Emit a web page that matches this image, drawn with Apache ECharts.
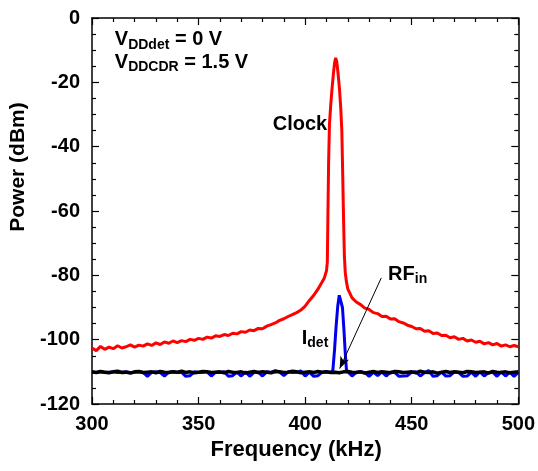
<!DOCTYPE html>
<html>
<head>
<meta charset="utf-8">
<script src="https://cdn.jsdelivr.net/npm/echarts@6/dist/echarts.min.js"></script>
<style>
  html, body { margin: 0; padding: 0; background: #fff; }
  #chart { width: 538px; height: 471px; }
</style>
</head>
<body>
<div id="chart"></div>
<script>
// frequency grid (kHz) used by the detector traces
const gridFreq = [
  300, 302, 304, 306, 308, 310, 312, 314, 316, 318, 320, 322, 324, 326, 328, 330, 332, 334, 336, 338,
  340, 342, 344, 346, 348, 350, 352, 354, 356, 358, 360, 362, 364, 366, 368, 370, 372, 374, 376, 378,
  380, 382, 384, 386, 388, 390, 392, 394, 396, 398, 400, 402, 404, 406, 408, 410, 412, 414, 416, 418,
  420, 422, 424, 426, 428, 430, 432, 434, 436, 438, 440, 442, 444, 446, 448, 450, 452, 454, 456, 458,
  460, 462, 464, 466, 468, 470, 472, 474, 476, 478, 480, 482, 484, 486, 488, 490, 492, 494, 496, 498, 500
];

// black trace (noise floor)
const blackPower = [
  -110.0, -110.2, -109.9, -110.1, -110.3, -110.0, -109.8, -110.2, -110.1, -110.4, -110.0, -109.9, -110.2, -110.1, -110.0, -110.3, -109.9, -110.1, -110.2, -110.0,
  -110.1, -109.8, -110.2, -110.0, -110.3, -110.1, -109.9, -110.0, -110.2, -110.1, -110.0, -110.3, -109.9, -110.1, -110.2, -110.0, -110.4, -110.1, -109.9, -110.2,
  -110.0, -110.1, -110.3, -109.9, -110.0, -110.2, -110.1, -109.8, -110.0, -110.3, -110.1, -110.0, -110.2, -109.9, -110.1, -110.0, -110.2, -110.1, -110.3, -110.0,
  -109.9, -110.1, -110.2, -110.0, -110.4, -110.1, -109.9, -110.2, -110.0, -110.1, -110.3, -109.9, -110.0, -110.2, -110.1, -110.0, -110.3, -109.8, -110.1, -110.2,
  -110.0, -110.4, -110.1, -109.9, -110.2, -110.0, -110.1, -110.3, -109.9, -110.0, -110.2, -110.1, -110.0, -110.4, -109.9, -110.1, -110.2, -110.0, -110.3, -110.1, -110.0
];

// blue trace (I_det) on the grid, peak handled separately
const blueBasePower = [
  -110.1, -110.2, -110.0, -110.2, -110.1, -110.0, -110.2, -110.1, -110.0, -110.2, -110.1, -110.0, -110.2, -111.4, -110.1, -110.0, -110.2, -111.3, -110.1, -110.0,
  -110.2, -110.1, -111.4, -111.2, -110.0, -110.2, -110.1, -110.0, -111.3, -110.1, -110.2, -110.0, -111.4, -111.2, -110.1, -111.3, -110.0, -111.4, -110.2, -110.1,
  -111.3, -110.0, -110.2, -109.6, -110.1, -111.2, -110.0, -110.2, -110.1, -109.7, -111.3, -110.1, -111.4, -111.2, -110.1, -110.0, -110.2, -110.0, -110.0, -110.0,
  -110.2, -111.3, -110.1, -110.0, -110.2, -111.4, -110.1, -111.2, -110.0, -111.3, -110.1, -110.2, -111.4, -111.3, -111.2, -110.1, -110.0, -111.3, -110.2, -109.6,
  -111.4, -111.2, -110.1, -111.3, -111.2, -110.0, -110.2, -111.4, -111.3, -110.1, -111.4, -110.0, -111.3, -110.2, -110.1, -111.4, -110.0, -111.3, -110.1, -111.4, -110.2
];
const bluePeakFreq = [413, 413.8, 414.5, 415.3, 416, 416.4, 416.9, 417.5, 418.2, 418.8, 419.4];
const bluePeakPower = [-109.5, -103, -96, -89.5, -86.2, -85.6, -86.5, -90, -97, -104, -109.6];

// red trace (clock)
const redFreq = [
  300, 302, 304, 306, 308, 310, 312, 314, 316, 318, 320, 322, 324, 326, 328, 330, 332, 334, 336, 338,
  340, 342, 344, 346, 348, 350, 352, 354, 356, 358, 360, 362, 364, 366, 368, 370, 372, 374, 376, 378,
  380, 382, 384, 386, 388, 390, 392, 394, 396, 398, 400, 402, 404, 406, 408,
  409, 410, 410.4, 410.7, 411, 411.4, 412, 412.6, 413.3, 413.8, 414.3, 414.8, 415.4, 416.1, 416.7, 417.2,
  417.6, 418, 418.4, 418.8, 419.3, 420,
  422, 424, 426, 428, 430, 432, 434, 436, 438, 440, 442, 444, 446, 448, 450, 452, 454, 456, 458,
  460, 462, 464, 466, 468, 470, 472, 474, 476, 478, 480, 482, 484, 486, 488, 490, 492, 494, 496, 498, 500
];
const redPower = [
  -102.6, -103.4, -102.1, -103.0, -102.3, -102.8, -101.9, -102.6, -102.2, -101.6, -102.3, -101.7, -102.0, -101.3, -101.8, -101.0, -101.5, -100.7, -101.1, -100.4,
  -100.9, -100.3, -100.6, -99.9, -100.2, -99.6, -99.9, -99.2, -99.5, -98.8, -99.0, -98.4, -98.7, -98.0, -98.2, -97.5, -97.7, -97.0, -97.2, -96.5,
  -96.6, -95.8, -95.3, -94.8, -94.0, -93.5, -92.8, -92.2, -91.6, -90.8, -89.6, -87.8, -86.2, -84.3, -82.0,
  -80.8, -78.6, -76, -60, -45, -33, -27, -22, -17, -14, -12.4, -13.5, -17, -22, -28, -35,
  -48, -62, -74, -79, -81.8, -84.2,
  -87.0, -88.3, -89.1, -90.2, -90.6, -91.6, -91.9, -92.8, -92.7, -93.6, -93.5, -94.4, -94.8, -95.5, -95.9, -96.6, -96.5, -97.4, -97.2,
  -98.1, -97.9, -98.7, -98.6, -99.4, -99.1, -99.9, -99.6, -100.4, -100.1, -100.8, -100.5, -101.3, -100.9, -101.6, -101.2, -102.0, -101.6, -102.2, -101.8, -102.2
];

// annotations in data coordinates (kHz, dBm)
const labels = [
  { text: '{m|V}{s|DDdet}{m| = 0 V}', at: [310.7, -6.8] },
  { text: '{m|V}{s|DDCDR}{m| = 1.5 V}', at: [310.7, -13.8] },
  { text: '{m|Clock}', at: [384.8, -33.1] },
  { text: '{m|I}{s|det}', at: [398.4, -99.5] },
  { text: '{m|RF}{s|in}', at: [438.9, -79.7] }
];
const arrowFrom = [435.7, -80.8];
const arrowTo = [416.2, -109.0];

const FONT = '"Liberation Sans", Arial, Helvetica, sans-serif';

const blueData = [];
gridFreq.forEach((f, i) => {
  if (f < 412.5 || f > 419.5) blueData.push([f, blueBasePower[i]]);
});
bluePeakFreq.forEach((f, i) => blueData.push([f, bluePeakPower[i]]));
blueData.sort((a, b) => a[0] - b[0]);

const redData = redFreq.map((f, i) => [f, redPower[i]]);
const blackData = gridFreq.map((f, i) => [f, blackPower[i]]);

const chart = echarts.init(document.getElementById('chart'));

const axisLine = { show: true, onZero: false, lineStyle: { color: '#000', width: 1.5 } };
const tickStyle = { color: '#000', width: 1.2 };

function xAxisDef(pos, showLabel) {
  return {
    type: 'value',
    position: pos,
    min: 300,
    max: 500,
    interval: 50,
    axisLine: axisLine,
    axisTick: { show: true, inside: true, length: 7, lineStyle: tickStyle },
    minorTick: { show: true, splitNumber: 5, length: 4, lineStyle: tickStyle },
    splitLine: { show: false },
    axisLabel: {
      show: showLabel, margin: 10, color: '#000',
      fontSize: 20, fontWeight: 'bold', fontFamily: FONT
    }
  };
}
function yAxisDef(pos, showLabel) {
  return {
    type: 'value',
    position: pos,
    min: -120,
    max: 0,
    interval: 20,
    axisLine: axisLine,
    axisTick: { show: true, inside: true, length: 7, lineStyle: tickStyle },
    minorTick: { show: true, splitNumber: 4, length: 4, lineStyle: tickStyle },
    splitLine: { show: false },
    axisLabel: {
      show: showLabel, margin: 12, color: '#000',
      fontSize: 20, fontWeight: 'bold', fontFamily: FONT
    }
  };
}

const xBottom = xAxisDef('bottom', true);
xBottom.name = 'Frequency (kHz)';
xBottom.nameLocation = 'middle';
xBottom.nameGap = 34;
xBottom.nameTextStyle = { color: '#000', fontSize: 22, fontWeight: 'bold', fontFamily: FONT, padding: [0, 18, 0, 0] };

const yLeft = yAxisDef('left', true);
yLeft.name = 'Power (dBm)';
yLeft.nameLocation = 'middle';
yLeft.nameGap = 59;
yLeft.nameTextStyle = { color: '#000', fontSize: 21, fontWeight: 'bold', fontFamily: FONT, padding: [0, 0, 0, 88] };

chart.setOption({
  animation: false,
  backgroundColor: '#fff',
  grid: { left: 92, right: 17, top: 18, bottom: 67 },
  xAxis: [xBottom, xAxisDef('top', false)],
  yAxis: [yLeft, yAxisDef('right', false)],
  series: [
    {
      name: 'Clock', type: 'line', data: redData, showSymbol: false,
      lineStyle: { color: '#ff0000', width: 3 }, z: 2
    },
    {
      name: 'Idet', type: 'line', data: blueData, showSymbol: false,
      lineStyle: { color: '#0000ee', width: 3 }, z: 3
    },
    {
      name: 'Floor', type: 'line', data: blackData, showSymbol: false,
      lineStyle: { color: '#000', width: 3.5 }, z: 4,
      markLine: {
        silent: true,
        symbol: ['none', 'arrow'],
        symbolSize: [7, 12],
        label: { show: false },
        lineStyle: { color: '#000', width: 1, type: 'solid' },
        data: [[{ coord: arrowFrom }, { coord: arrowTo }]]
      }
    }
  ]
});

const rich = {
  m: { fill: '#000', fontSize: 20, fontWeight: 'bold', fontFamily: FONT, lineHeight: 24 },
  s: { fill: '#000', fontSize: 14, fontWeight: 'bold', fontFamily: FONT, lineHeight: 14, verticalAlign: 'bottom' }
};

chart.setOption({
  graphic: labels.map(l => {
    const p = chart.convertToPixel({ gridIndex: 0 }, l.at);
    return {
      type: 'text', x: p[0], y: p[1], z: 10,
      style: { text: l.text, rich: rich, align: 'left', verticalAlign: 'middle' }
    };
  })
});
</script>
</body>
</html>
